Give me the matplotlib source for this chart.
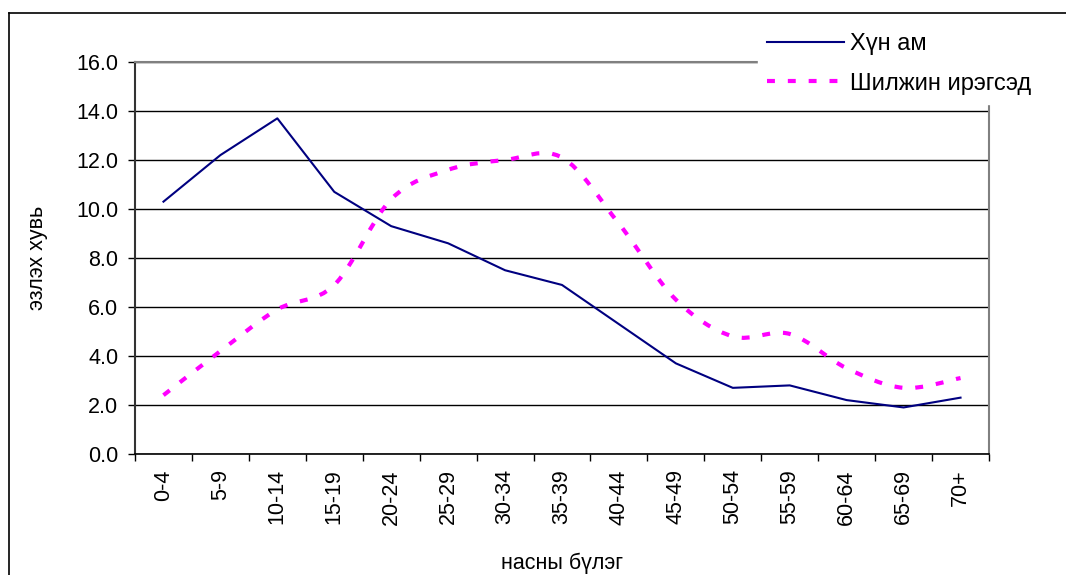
import matplotlib
matplotlib.use('Agg')
import matplotlib.pyplot as plt
import numpy as np
from matplotlib.path import Path
from matplotlib.patches import PathPatch
from matplotlib.lines import Line2D

plt.rcParams['font.family'] = ['Liberation Sans', 'DejaVu Sans']

# Data
age_groups = ['0-4', '5-9', '10-14', '15-19', '20-24', '25-29', '30-34', '35-39',
              '40-44', '45-49', '50-54', '55-59', '60-64', '65-69', '70+']
population = [10.3, 12.2, 13.7, 10.7, 9.3, 8.6, 7.5, 6.9, 5.3, 3.7, 2.7, 2.8, 2.2, 1.9, 2.3]
migrants = [2.4, 4.2, 5.9, 6.9, 10.4, 11.6, 12.0, 12.1, 9.4, 6.3, 4.8, 4.9, 3.5, 2.7, 3.1]
y_ticks = [0, 2, 4, 6, 8, 10, 12, 14, 16]

navy = '#000080'
magenta = '#ff00ff'

fig = plt.figure(figsize=(10.66, 5.75), dpi=100)
ax = fig.add_axes([135 / 1066, 1 - 454 / 575, (989 - 135) / 1066, (454 - 62) / 575])

x = np.arange(len(age_groups))

# blue straight line
ax.plot(x, population, color=navy, lw=1.5, zorder=3)

# magenta smoothed line (Excel-like bezier smoothing through the points)
pts = np.column_stack([x, migrants]).astype(float)
verts = [tuple(pts[0])]
codes = [Path.MOVETO]
n = len(pts)
for i in range(n - 1):
    p0 = pts[i - 1] if i > 0 else pts[i]
    p1 = pts[i]
    p2 = pts[i + 1]
    p3 = pts[i + 2] if i + 2 < n else pts[i + 1]
    c1 = p1 + (p2 - p0) / 6
    c2 = p2 - (p3 - p1) / 6
    verts += [tuple(c1), tuple(c2), tuple(p2)]
    codes += [Path.CURVE4] * 3
dash = (0, (1.9, 3.1))
patch = PathPatch(Path(verts, codes), fill=False, edgecolor=magenta, lw=3,
                  linestyle=dash, capstyle='butt', zorder=3)
ax.add_patch(patch)

ax.set_xlim(-0.5, len(age_groups) - 0.5)
ax.set_ylim(0, 16)
ax.set_yticks(y_ticks)
ax.set_yticklabels([f'{v:.1f}' for v in y_ticks], fontsize=15.5)
ax.set_xticks(x)
ax.set_xticklabels(age_groups, rotation=90, fontsize=15.5)
ax.set_xticks(np.arange(len(age_groups) + 1) - 0.5, minor=True)
ax.tick_params(axis='x', which='major', length=0, pad=11)
ax.tick_params(axis='x', which='minor', length=5, width=1, direction='out')
ax.tick_params(axis='y', length=5, width=1, direction='out', pad=7)

ax.yaxis.grid(True, color='black', lw=1)
ax.set_axisbelow(True)
for s in ['top', 'right']:
    ax.spines[s].set_color('#808080')
    ax.spines[s].set_linewidth(1.5)
ax.spines['left'].set_color('#333333')
ax.spines['left'].set_linewidth(1.5)
ax.spines['bottom'].set_color('black')
ax.spines['bottom'].set_linewidth(1.2)

# axis titles
fig.text(38 / 1066, 1 - 258 / 575, 'эзлэх хувь', rotation=90, fontsize=15.5,
         ha='center', va='center')
fig.text(562 / 1066, 1 - 563 / 575, 'насны бүлэг', fontsize=15.5, ha='center', va='center')

# legend
handles = [Line2D([], [], color=navy, lw=1.5),
           Line2D([], [], color=magenta, lw=3, linestyle=dash, dash_capstyle='butt')]
leg = fig.legend(handles, ['Хүн ам', 'Шилжин ирэгсэд'], loc='lower left',
                 bbox_to_anchor=(758 / 1066, 1 - 104 / 575), fontsize=17,
                 frameon=True, fancybox=False, framealpha=1, edgecolor='white',
                 facecolor='white', handlelength=3.25, handletextpad=0.25,
                 labelspacing=0.75, borderpad=0.4, borderaxespad=0)
leg.set_zorder(10)

# outer chart border
fig.add_artist(Line2D([9 / 1066, 9 / 1066], [0, 1 - 13 / 575], color='black', lw=1.2,
                      transform=fig.transFigure))
fig.add_artist(Line2D([9 / 1066, 1], [1 - 13 / 575, 1 - 13 / 575], color='black', lw=1.2,
                      transform=fig.transFigure))

fig.savefig('out.png', dpi=100)
